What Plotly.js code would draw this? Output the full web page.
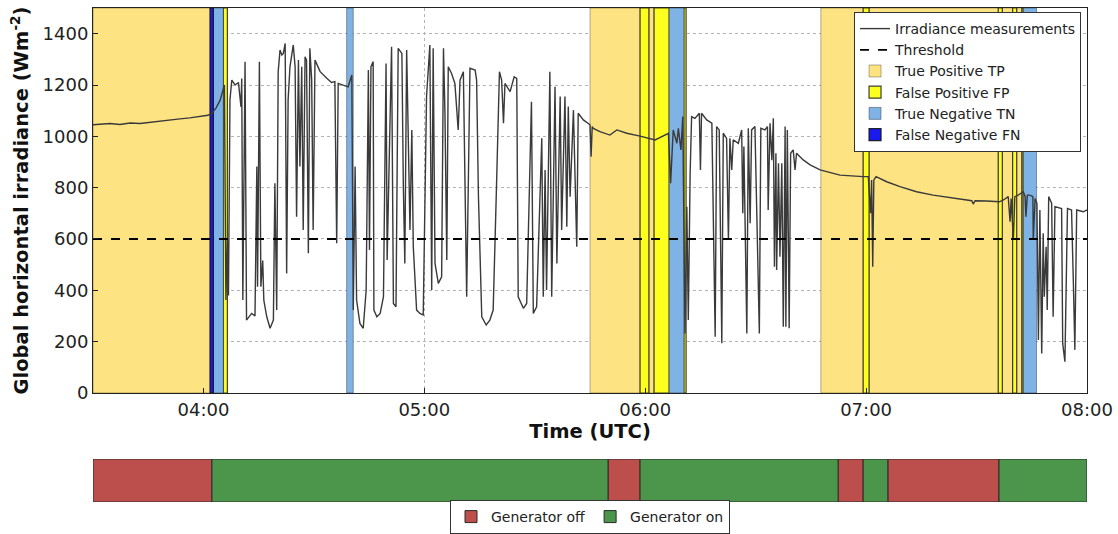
<!DOCTYPE html>
<html>
<head>
<meta charset="utf-8">
<script src="https://cdn.plot.ly/plotly-3.0.1.min.js"></script>
<style>html,body{margin:0;padding:0;background:#fff;}#chart{width:1118px;height:534px;}</style>
</head>
<body>
<div id="chart"></div>
<script>
// ---- Data (time in minutes since 00:00 UTC) ----
const irrTime = [
210.0,211.9,214.6,217.3,220.1,222.8,225.5,228.2,230.9,233.6,236.3,239.1,241.2,242.3,243.4,244.5,245.3,245.7,
246.1,246.5,246.8,247.2,247.7,248.6,249.5,250.2,250.4,250.7,251.3,251.7,253.1,254.0,254.5,254.7,255.2,255.6,256.1,256.4,257.2,258.1,259.0,259.4,259.9,
260.3,260.8,261.3,261.7,262.2,262.6,263.0,263.5,264.4,264.9,265.3,265.8,266.2,266.7,267.1,267.6,268.0,268.5,268.9,269.4,269.8,270.3,271.7,273.5,274.8,275.7,276.2,276.6,278.0,279.3,280.3,280.7,281.2,281.6,282.5,
283.4,284.2,284.8,285.1,285.5,286.1,286.3,287.1,288.0,288.9,289.6,289.9,291.1,291.6,292.3,292.9,293.9,294.3,294.7,295.2,296.1,296.6,297.0,297.9,298.8,299.7,
300.6,301.5,302.0,302.4,302.9,303.8,304.7,305.2,305.6,306.1,306.5,307.4,308.3,309.2,309.7,310.6,311.5,312.4,313.8,314.2,314.7,315.6,316.8,317.8,318.7,319.6,
320.4,321.0,321.5,321.9,323.3,324.4,325.1,325.5,326.9,327.8,328.2,329.1,329.6,330.5,331.9,332.3,332.8,333.2,334.1,334.6,335.5,336.0,336.9,337.3,338.2,338.7,339.1,339.6,
340.5,341.4,341.8,343.2,345.0,345.3,345.6,345.9,347.7,350.4,352.3,355.0,358.6,362.7,366.3,366.9,367.6,368.6,369.0,369.7,370.2,370.8,371.3,371.7,372.2,372.6,373.5,374.4,374.7,375.0,375.3,376.7,378.1,379.0,379.4,
380.1,380.8,381.2,382.1,382.6,383.0,383.5,383.9,385.3,386.2,386.5,386.8,387.6,388.0,388.5,388.9,389.8,391.0,391.4,392.5,393.2,393.4,393.9,394.4,394.8,395.1,395.5,395.7,396.2,396.6,397.1,397.5,398.0,398.2,398.6,399.1,399.5,
400.2,400.7,401.1,402.9,404.8,407.5,410.2,412.9,419.2,420.6,421.2,421.5,421.8,422.1,422.7,425.6,429.2,433.7,438.2,443.7,448.7,449.1,449.6,452.8,456.2,457.3,458.6,459.1,459.4,
460.0,460.4,461.3,462.2,462.7,463.2,463.4,463.8,464.5,465.3,465.4,465.9,466.4,466.8,467.2,467.7,468.1,468.4,468.9,469.2,469.6,470.4,470.8,471.3,473.1,473.4,474.0,474.7,475.8,476.3,476.7,477.2,479.0,480.0
];
const irrValue = [
1045,1048,1050,1046,1052,1050,1055,1060,1063,1068,1072,1078,1082,1090,1110,1140,1175,1200,
362,600,380,1142,1219,1200,1210,1115,1225,362,1291,284,310,300,882,414,1291,414,516,362,297,252,284,817,323,
1252,1336,1317,1323,1362,466,1142,1271,1356,1271,687,1297,882,1271,635,1310,1297,544,1343,1219,635,1297,1252,1226,1210,1213,583,1206,1200,1193,1239,323,882,362,271,
252,400,1258,557,1271,1291,323,297,310,375,1284,518,1349,349,336,1343,1323,804,505,1336,635,1025,570,323,310,304,
1155,1356,401,1343,505,427,453,1343,1090,518,1271,1245,1206,1025,1219,1252,375,1265,1258,1219,765,297,265,284,323,804,
1252,1219,1051,1206,1174,1232,1226,375,330,349,583,1135,310,336,992,375,869,401,1252,375,1193,505,1155,635,1155,648,1116,765,
1102,570,1090,1064,1045,921,1038,1031,1018,1005,1025,1012,1001,986,1012,817,1025,973,1031,947,1077,232,726,284,856,1077,1070,1083,1090,869,1090,1064,1051,219,1038,
1025,194,1012,992,596,992,869,986,973,1025,700,960,232,1031,661,1025,1038,232,1031,1025,1038,713,1051,907,1070,492,934,479,895,531,895,258,1038,258,1025,252,934,
947,869,934,908,889,869,860,849,843,843,700,830,492,830,843,823,804,784,771,758,749,736,749,748,745,752,765,667,758,
596,765,771,778,784,765,687,771,771,765,596,758,739,206,713,154,622,375,570,323,765,739,297,726,719,193,122,719,713,427,168,713,706,713
];

const thresholdValue = 600;

// Detection classes (start / end, minutes since 00:00 UTC)
const tpStart = [210.0, 345.0, 361.0, 407.7, 420.8, 457.0, 460.9];
const tpEnd   = [241.8, 358.6, 362.4, 419.2, 455.9, 459.8, 462.3];
const fpStart = [245.4, 358.6, 362.4, 370.5, 419.2, 455.9, 459.8, 462.3];
const fpEnd   = [246.5, 361.0, 366.5, 371.1, 420.8, 457.0, 460.9, 462.7];
const tnStart = [242.7, 278.9, 366.5, 462.7];
const tnEnd   = [245.4, 280.7, 370.5, 466.3];
const fnStart = [241.8];
const fnEnd   = [242.7];

// Generator state
const genOffStart = [210.0, 349.9, 412.4, 425.9];
const genOffEnd   = [242.3, 358.6, 419.2, 456.1];
const genOnStart  = [242.3, 358.6, 419.2, 456.1];
const genOnEnd    = [349.9, 412.4, 425.9, 480.0];

const tickTimes  = [240, 300, 360, 420, 480];
const tickLabels = ['04:00', '05:00', '06:00', '07:00', '08:00'];
const yTicks = [0, 200, 400, 600, 800, 1000, 1200, 1400];
const xRange = [210, 480];
const yMax = 1500;

// ---- Build traces ----
const FONT = 'DejaVu Sans, Liberation Sans, sans-serif';
function mids(s, e) { return s.map((v, i) => (v + e[i]) / 2); }
function widths(s, e) { return s.map((v, i) => e[i] - v); }

function bandTrace(name, s, e, fill, edge, edgeW) {
  return {
    type: 'bar', name: name, x: mids(s, e), width: widths(s, e),
    y: s.map(() => yMax), base: 0, xaxis: 'x', yaxis: 'y',
    marker: { color: fill, line: { color: edge, width: edgeW } },
    hoverinfo: 'skip'
  };
}
function genTrace(name, s, e, fill) {
  return {
    type: 'bar', name: name, x: mids(s, e), width: widths(s, e),
    y: s.map(() => 1), base: 0, xaxis: 'x2', yaxis: 'y2', legend: 'legend2',
    marker: { color: fill, line: { color: '#2a2a2a', width: 1 } },
    hoverinfo: 'skip'
  };
}

const data = [
  { type: 'scatter', mode: 'lines', name: 'Irradiance measurements', x: irrTime, y: irrValue,
    line: { color: '#3a3a3a', width: 1.4 }, xaxis: 'x', yaxis: 'y' },
  { type: 'scatter', mode: 'lines', name: 'Threshold', x: xRange, y: xRange.map(() => thresholdValue),
    line: { color: '#000', width: 1.8, dash: 'dash' }, xaxis: 'x', yaxis: 'y' },
  bandTrace('True Positive TP', tpStart, tpEnd, '#FDE382', 'rgba(0,0,0,0.3)', 1),
  bandTrace('False Positive FP', fpStart, fpEnd, '#FFFF1F', 'rgba(30,30,30,0.85)', 1.2),
  bandTrace('True Negative TN', tnStart, tnEnd, '#7FB2E5', 'rgba(0,0,0,0.35)', 1),
  bandTrace('False Negative FN', fnStart, fnEnd, '#1A1AF0', 'rgba(20,20,20,0.9)', 1.2),
  genTrace('Generator off', genOffStart, genOffEnd, '#BC4E4C'),
  genTrace('Generator on', genOnStart, genOnEnd, '#4C964B')
];

const layout = {
  width: 1118, height: 534,
  margin: { l: 93, r: 31, t: 8, b: 0 },
  paper_bgcolor: '#fff', plot_bgcolor: '#fff',
  font: { family: FONT, color: '#222', size: 14 },
  barmode: 'overlay', bargap: 0,
  showlegend: true,
  xaxis: {
    domain: [0, 1], range: xRange, anchor: 'y',
    tickmode: 'array', tickvals: tickTimes, ticktext: tickLabels,
    tickfont: { size: 18, family: FONT, color: '#222' },
    title: { text: '<b>Time (UTC)</b>', font: { size: 19.5, family: FONT, color: '#111' }, standoff: 4 },
    showgrid: true, gridcolor: '#b4b4b4', griddash: 'dot', gridwidth: 1,
    showline: true, mirror: true, linecolor: '#222', linewidth: 1,
    ticks: 'inside', ticklen: 5, tickcolor: '#222', zeroline: false
  },
  yaxis: {
    domain: [0.2681, 1], range: [0, yMax], anchor: 'x',
    tickmode: 'array', tickvals: yTicks,
    tickfont: { size: 18, family: FONT, color: '#222' },
    title: { text: '<b>Global horizontal irradiance (Wm<sup>-2</sup>)</b>', font: { size: 19.5, family: FONT, color: '#111' }, standoff: 8 },
    showgrid: true, gridcolor: '#b4b4b4', griddash: 'dot', gridwidth: 1,
    showline: true, mirror: true, linecolor: '#222', linewidth: 1,
    ticks: 'inside', ticklen: 5, tickcolor: '#222', zeroline: false
  },
  xaxis2: { domain: [0, 1], range: xRange, anchor: 'y2', visible: false, fixedrange: true },
  yaxis2: { domain: [0.0608, 0.1426], range: [0, 1], anchor: 'x2', visible: false, fixedrange: true },
  legend: {
    x: 0.994, xanchor: 'right', y: 0.9924, yanchor: 'top',
    bgcolor: '#fff', bordercolor: '#333', borderwidth: 1,
    font: { size: 14, family: FONT, color: '#222' }, traceorder: 'normal'
  },
  legend2: {
    orientation: 'h', x: 0.5, xanchor: 'center', y: 0.0646, yanchor: 'top',
    bgcolor: '#fff', bordercolor: '#333', borderwidth: 1,
    font: { size: 14, family: FONT, color: '#222' }
  }
};

Plotly.newPlot('chart', data, layout, { displayModeBar: false, staticPlot: true });
</script>
</body>
</html>
